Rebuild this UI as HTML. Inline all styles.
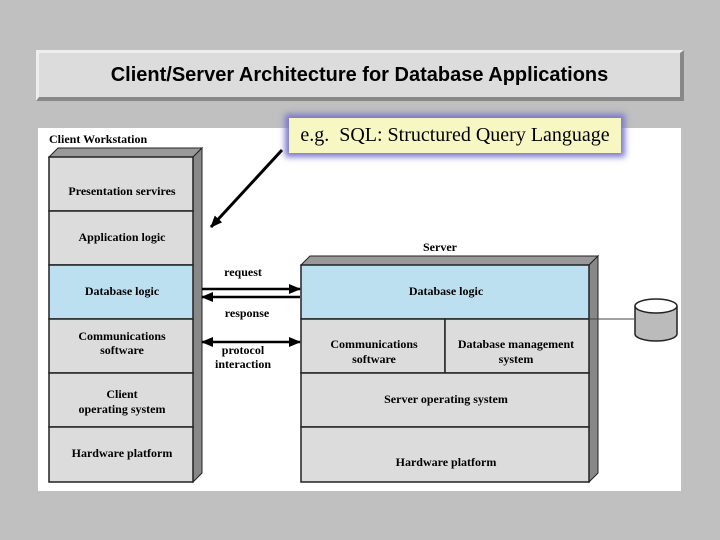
<!DOCTYPE html>
<html><head><style>
body{margin:0;width:720px;height:540px;background:#c0c0c0;position:relative;overflow:hidden;font-family:"Liberation Serif",serif}
.t{position:absolute;left:36px;top:50px;width:648px;height:51px;background:#dcdcdc;box-sizing:border-box;border-top:3px solid #eee;border-left:3px solid #eee;border-right:4px solid #888;border-bottom:4px solid #888;text-align:center;font:bold 20px "Liberation Sans",sans-serif;line-height:44px;color:#000}
.p{position:absolute;left:38px;top:128px;width:643px;height:363px;background:#fff}
.c{position:absolute;left:289px;top:118px;width:332px;height:35px;background:#f7f7c4;box-shadow:0 0 6px 4px #7a78c8;font-size:20px;text-align:center;line-height:35px}
</style></head><body>
<div class="t">Client/Server Architecture for Database Applications</div>
<div class="p"></div>
<svg style="position:absolute;left:0;top:0" width="720" height="540" font-family="Liberation Serif,serif" font-weight="bold" font-size="12" text-anchor="middle">
<defs><marker id="b" markerWidth="12" markerHeight="10" refX="11" refY="5" orient="auto" markerUnits="userSpaceOnUse"><path d="M0,0L12,5L0,10z"/></marker></defs>
<text x="49" y="143" text-anchor="start" font-size="12">Client Workstation</text>
<polygon points="49,157 58,148 202,148 193,157" fill="#999" stroke="#222"/>
<polygon points="193,157 202,148 202,473 193,482" fill="#888" stroke="#222"/>
<g stroke="#222" stroke-width="1.5">
<rect x="49" y="157" width="144" height="54" fill="#dcdcdc"/>
<rect x="49" y="211" width="144" height="54" fill="#dcdcdc"/>
<rect x="49" y="265" width="144" height="54" fill="#bde0f0"/>
<rect x="49" y="319" width="144" height="54" fill="#dcdcdc"/>
<rect x="49" y="373" width="144" height="54" fill="#dcdcdc"/>
<rect x="49" y="427" width="144" height="55" fill="#dcdcdc"/>
</g>
<text x="122" y="195">Presentation servires</text>
<text x="122" y="241">Application logic</text>
<text x="122" y="295">Database logic</text>
<text x="122" y="340">Communications</text><text x="122" y="354">software</text>
<text x="122" y="398">Client</text><text x="122" y="413">operating system</text>
<text x="122" y="457">Hardware platform</text>
<text x="440" y="251">Server</text>
<polygon points="301,265 310,256 598,256 589,265" fill="#999" stroke="#222"/>
<polygon points="589,265 598,256 598,473 589,482" fill="#888" stroke="#222"/>
<g stroke="#222" stroke-width="1.5">
<rect x="301" y="265" width="288" height="54" fill="#bde0f0"/>
<rect x="301" y="319" width="144" height="54" fill="#dcdcdc"/>
<rect x="445" y="319" width="144" height="54" fill="#dcdcdc"/>
<rect x="301" y="373" width="288" height="54" fill="#dcdcdc"/>
<rect x="301" y="427" width="288" height="55" fill="#dcdcdc"/>
</g>
<text x="446" y="295">Database logic</text>
<text x="374" y="348">Communications</text><text x="374" y="363">software</text>
<text x="516" y="348">Database management</text><text x="516" y="363">system</text>
<text x="446" y="403">Server operating system</text>
<text x="446" y="466">Hardware platform</text>
<g stroke="#000" stroke-width="2.5">
<line x1="202" y1="289" x2="300" y2="289" marker-end="url(#b)"/>
<line x1="300" y1="297" x2="202" y2="297" marker-end="url(#b)"/>
<line x1="250" y1="342" x2="300" y2="342" marker-end="url(#b)"/>
<line x1="250" y1="342" x2="202" y2="342" marker-end="url(#b)"/>
<line x1="282" y1="150" x2="211" y2="227" stroke-width="3" marker-end="url(#b)"/>
</g>
<text x="243" y="276">request</text>
<text x="247" y="317">response</text>
<text x="243" y="354">protocol</text><text x="243" y="368">interaction</text>
<line x1="589" y1="319" x2="634" y2="319" stroke="#444"/>
<path d="M635,306 L635,334 A21,7 0 0 0 677,334 L677,306" fill="#bbb" stroke="#222" stroke-width="1.5"/>
<ellipse cx="656" cy="306" rx="21" ry="7" fill="#fff" stroke="#222" stroke-width="1.5"/>
</svg>
<div class="c">e.g.&nbsp; SQL: Structured Query Language</div>
</body></html>
